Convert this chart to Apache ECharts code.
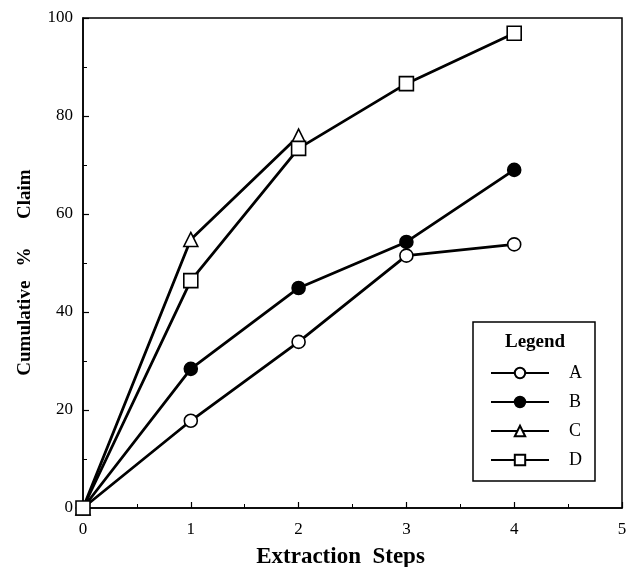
<!DOCTYPE html>
<html>
<head>
<meta charset="utf-8">
<script src="https://cdn.jsdelivr.net/npm/echarts@6/dist/echarts.min.js"></script>
<style>
    html, body { margin: 0; padding: 0; background: #fff; }
    #chart { width: 627px; height: 567px; }
</style>
</head>
<body>
<div id="chart"></div>
<script>
    // extraction steps (x) and cumulative % claim per series
    var steps = [0, 1, 2, 3, 4];
    var stepsC = [0, 1, 2];
    var seriesA = [0, 17.8, 33.9, 51.5, 53.8];
    var seriesB = [0, 28.4, 44.9, 54.3, 69.0];
    var seriesC = [0, 54.8, 75.9];
    var seriesD = [0, 46.4, 73.4, 86.6, 96.9];
    var names = ['A', 'B', 'C', 'D'];

    var serif = '"Liberation Serif", "DejaVu Serif", serif';

    function pairs(xs, ys) {
        var out = [];
        for (var i = 0; i < ys.length; i++) {
            out.push([xs[i], ys[i]]);
        }
        return out;
    };

    function makeSeries(name, xs, ys, symbol, fill, size) {
        return {
            name: name,
            type: 'line',
            data: pairs(xs, ys),
            symbol: symbol,
            symbolSize: size,
            showAllSymbol: true,
            lineStyle: { color: '#000', width: 2.8 },
            itemStyle: { color: fill, borderColor: '#000', borderWidth: 1.6 },
            emphasis: { disabled: true },
            z: 3
        };
    };

    var chart = echarts.init(document.getElementById('chart'));
    var option = {
        animation: false,
        backgroundColor: '#fff',
        title: {
            text: 'Legend',
            left: 500,
            top: 328,
            textStyle: { fontFamily: serif, fontWeight: 'bold', fontSize: 19, color: '#000' }
        },
        legend: {
            data: names,
            orient: 'vertical',
            left: 473,
            top: 322,
            padding: [42, 13, 12, 17],
            itemWidth: 58,
            itemHeight: 13,
            itemGap: 11,
            borderColor: '#000',
            borderWidth: 1.5,
            selectedMode: false,
            textStyle: { fontFamily: serif, fontSize: 18, color: '#000', padding: [0, 0, 0, 15] }
        },
        grid: {
            left: 83,
            right: 5,
            top: 18,
            bottom: 59,
            outerBoundsMode: 'none',
            containLabel: false,
            show: true,
            borderColor: '#000',
            borderWidth: 1.5,
            backgroundColor: 'transparent'
        },
        xAxis: {
            type: 'value',
            min: 0,
            max: 5,
            interval: 1,
            name: 'Extraction  Steps',
            nameLocation: 'middle',
            nameGap: 38,
            nameTextStyle: { fontFamily: serif, fontWeight: 'bold', fontSize: 23, color: '#000', padding: [0, 24, 0, 0] },
            axisLine: { show: true, onZero: false, lineStyle: { color: '#000', width: 1.5 } },
            axisTick: { show: true, inside: true, length: 6, lineStyle: { color: '#000', width: 1.2 } },
            minorTick: { show: true, splitNumber: 2, length: 4, lineStyle: { color: '#000', width: 1 } },
            axisLabel: { fontFamily: serif, fontSize: 17, color: '#000', margin: 13 },
            splitLine: { show: false }
        },
        yAxis: {
            type: 'value',
            min: 0,
            max: 100,
            interval: 20,
            name: 'Cumulative   %      Claim    ',
            nameLocation: 'middle',
            nameGap: 48,
            nameTextStyle: { fontFamily: serif, fontWeight: 'bold', fontSize: 19, color: '#000' },
            axisLine: { show: true, lineStyle: { color: '#000', width: 1.5 } },
            axisTick: { show: true, inside: true, length: 6, lineStyle: { color: '#000', width: 1.2 } },
            minorTick: { show: true, splitNumber: 2, length: 4, lineStyle: { color: '#000', width: 1 } },
            axisLabel: { fontFamily: serif, fontSize: 17, color: '#000', margin: 10, padding: [6, 0, 0, 0] },
            splitLine: { show: false }
        },
        series: [
            makeSeries('A', steps, seriesA, 'circle', '#fff', 13),
            makeSeries('B', steps, seriesB, 'circle', '#000', 13),
            makeSeries('C', stepsC, seriesC, 'triangle', '#fff', 14),
            makeSeries('D', steps, seriesD, 'rect', '#fff', 14)
        ]
    };
    chart.setOption(option);
</script>
</body>
</html>
